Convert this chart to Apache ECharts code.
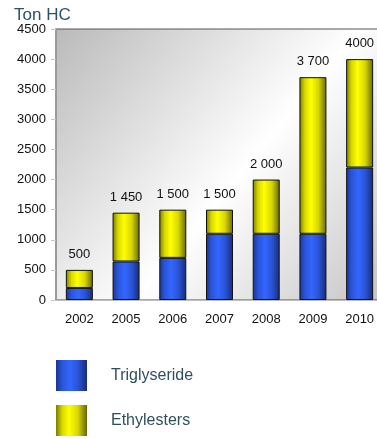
<!DOCTYPE html>
<html>
<head>
<meta charset="utf-8">
<script src="https://cdn.jsdelivr.net/npm/echarts@6/dist/echarts.min.js"></script>
<style>
html,body{margin:0;padding:0;background:#fff;}
#c{width:377px;height:439px;}
</style>
</head>
<body>
<div id="c"></div>
<script>
const years = ['2002','2005','2006','2007','2008','2009','2010'];
const triglyseride = [200, 640, 700, 1100, 1100, 1100, 2200];
const ethylesters = [300, 810, 800, 400, 900, 2600, 1800];
const totalLabels = ['500','1 450','1 500','1 500','2 000','3 700','4000'];
const yTicks = [0, 500, 1000, 1500, 2000, 2500, 3000, 3500, 4000, 4500];

const chart = echarts.init(document.getElementById('c'), null, {renderer:'canvas'});
const font = 'Liberation Sans, Arial, sans-serif';

function hGrad(stops){
  return new echarts.graphic.LinearGradient(0,0,1,0, stops.map(s=>({offset:s[0], color:s[1]})));
}
const blueGrad = hGrad([[0,'#1a3590'],[0.2,'#2a55d8'],[0.45,'#3366ff'],[0.7,'#2a55d8'],[1,'#182c78']]);
const yellowGrad = hGrad([[0,'#7a7a00'],[0.2,'#d8d800'],[0.42,'#ffff00'],[0.7,'#d8d800'],[1,'#666600']]);

const legendBase = {orient:'vertical', left:51, itemWidth:31, itemHeight:31, icon:'rect',
    itemStyle:{borderWidth:0},
    textStyle:{fontFamily:font, fontSize:16, color:'#2f4f5f', padding:[6,0,0,19]}};

chart.setOption({
  animation:false,
  backgroundColor:'#ffffff',
  title:{text:'Ton HC', left:9, top:2, textStyle:{fontFamily:font, fontSize:17, fontWeight:'normal', color:'#2b5266'}},
  grid:{left:56, top:29, width:327, height:271, show:true, outerBoundsMode:'none', containLabel:false,
    backgroundColor:new echarts.graphic.LinearGradient(0,0,1,1,[
      {offset:0,color:'#bababa'},{offset:0.55,color:'#ffffff'},{offset:1,color:'#c4c4c4'}]),
    borderColor:'#555', borderWidth:1},
  legend:[
    Object.assign({}, legendBase, {top:355, data:['Triglyseride']}),
    Object.assign({}, legendBase, {top:400, data:['Ethylesters']})
  ],
  xAxis:{type:'category', data:years,
    axisLine:{lineStyle:{color:'#bdbdbd', width:1}},
    axisTick:{show:false},
    axisLabel:{margin:13, fontFamily:font, fontSize:13, color:'#111'}},
  yAxis:{type:'value', min:0, max:4500, interval:500,
    splitLine:{show:false},
    axisLine:{show:true, lineStyle:{color:'#9a9a9a', width:2}},
    axisTick:{show:true, length:5, lineStyle:{color:'#c8c8c8'}},
    axisLabel:{margin:10, fontFamily:font, fontSize:13, color:'#111',
      formatter:v=> yTicks.includes(v) ? String(v) : ''}},
  series:[
    {name:'Triglyseride', type:'bar', stack:'t', data:triglyseride, barWidth:27,
      itemStyle:{color:blueGrad, borderColor:'#111', borderWidth:1}},
    {name:'Ethylesters', type:'bar', stack:'t', data:ethylesters, barWidth:27,
      itemStyle:{color:yellowGrad, borderColor:'#111', borderWidth:1},
      label:{show:true, position:'top', distance:9, fontFamily:font, fontSize:13, color:'#111',
        formatter:p=>totalLabels[p.dataIndex]}}
  ]
});
</script>
</body>
</html>
